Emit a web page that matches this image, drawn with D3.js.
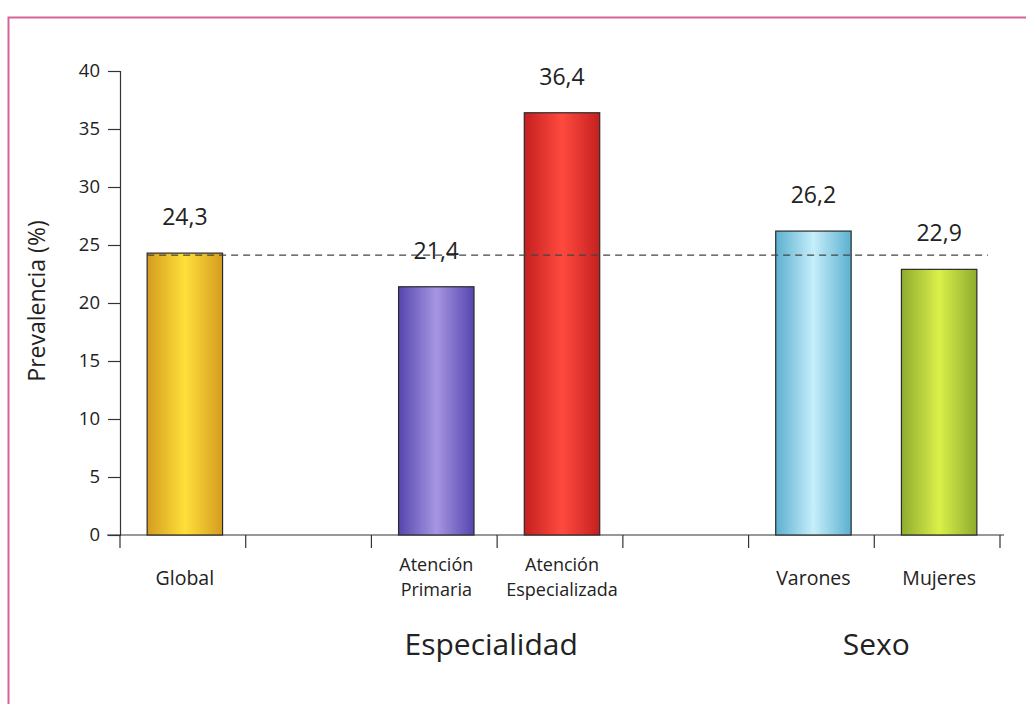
<!DOCTYPE html>
<html>
<head>
<meta charset="utf-8">
<script src="https://cdn.jsdelivr.net/npm/d3@7"></script>
<style>
  html, body { margin: 0; padding: 0; background: #fff; }
  svg text { font-family: 'Open Sans', 'Noto Sans', sans-serif; fill: #222; }
</style>
</head>
<body>
<div class="chart"></div>
<script>
// slots on the x axis, blank ones are gaps between groups
const slots = ['Global', 'gap1', 'Atención Primaria', 'Atención Especializada', 'gap2', 'Varones', 'Mujeres'];
const categories = ['Global', 'Atención Primaria', 'Atención Especializada', 'Varones', 'Mujeres'];
const values = [24.3, 21.4, 36.4, 26.2, 22.9];
const valueLabels = ['24,3', '21,4', '36,4', '26,2', '22,9'];
const categoryLines = [['Global'], ['Atención', 'Primaria'], ['Atención', 'Especializada'], ['Varones'], ['Mujeres']];
const groups = [
  { name: 'Especialidad', from: 'Atención Primaria', to: 'Atención Especializada' },
  { name: 'Sexo', from: 'Varones', to: 'Mujeres' }
];
const yTicks = [0, 5, 10, 15, 20, 25, 30, 35, 40];
const reference = 24.3;

// edge / centre colours for the shaded bars
const barColors = [
  ['#d49c20', '#ffe03a'],
  ['#5646ae', '#a696e2'],
  ['#c42020', '#ff4a3e'],
  ['#5cb0d0', '#c6eefa'],
  ['#8eac2e', '#daf04a']
];

const config = { width: 1026, height: 704 };
const margin = { left: 120, right: 26, top: 71, bottom: 169 };

const svg = d3.select('.chart').append('svg')
  .attr('width', config.width)
  .attr('height', config.height);

// outer frame (top and left edges only visible)
svg.append('path')
  .attr('d', `M8.5,${config.height} L8.5,17.5 L${config.width},17.5`)
  .attr('fill', 'none')
  .attr('stroke', '#d4649a')
  .attr('stroke-width', 2);

const x = d3.scaleBand()
  .domain(slots)
  .range([margin.left + 2, 1002])
  .paddingInner(0.4)
  .paddingOuter(0.2);

const y = d3.scaleLinear()
  .domain([0, 40])
  .range([config.height - margin.bottom, margin.top]);

const defs = svg.append('defs');
barColors.forEach((c, i) => {
  const g = defs.append('linearGradient')
    .attr('id', 'grad' + i)
    .attr('x1', '0%').attr('x2', '100%');
  g.append('stop').attr('offset', '0%').attr('stop-color', c[0]);
  g.append('stop').attr('offset', '50%').attr('stop-color', c[1]);
  g.append('stop').attr('offset', '100%').attr('stop-color', c[0]);
});

// y axis
const yAxis = svg.append('g')
  .attr('transform', `translate(${margin.left},0)`)
  .call(d3.axisLeft(y).tickValues(yTicks).tickSize(12).tickPadding(8));
yAxis.select('.domain').attr('stroke', '#333').attr('stroke-width', 1.2);
yAxis.selectAll('.tick line').attr('stroke', '#333').attr('stroke-width', 1.2);
yAxis.selectAll('.tick text').attr('font-size', 18.5).attr('fill', '#222');

// x axis line and slot boundary ticks
const y0 = y(0);
svg.append('line')
  .attr('x1', margin.left - 13).attr('x2', 1004)
  .attr('y1', y0).attr('y2', y0)
  .attr('stroke', '#333').attr('stroke-width', 1.2);

const boundaries = d3.range(slots.length + 1).map(i => margin.left + i * (880 / slots.length));
svg.selectAll('.xtick')
  .data(boundaries)
  .enter()
  .append('line')
  .attr('class', 'xtick')
  .attr('x1', d => d).attr('x2', d => d)
  .attr('y1', y0).attr('y2', y0 + 13)
  .attr('stroke', '#333').attr('stroke-width', 1.2);

// bars
svg.selectAll('.bar')
  .data(categories)
  .enter()
  .append('rect')
  .attr('class', 'bar')
  .attr('x', d => x(d))
  .attr('y', (d, i) => y(values[i]))
  .attr('width', x.bandwidth())
  .attr('height', (d, i) => y0 - y(values[i]))
  .attr('fill', (d, i) => `url(#grad${i})`)
  .attr('stroke', '#2a2a2a')
  .attr('stroke-width', 1.2);

// reference dashed line
svg.append('line')
  .attr('x1', x('Global')).attr('x2', 988)
  .attr('y1', y(reference) + 2).attr('y2', y(reference) + 2)
  .attr('stroke', '#444')
  .attr('stroke-width', 1.3)
  .attr('stroke-dasharray', '7,5');

// value labels
svg.selectAll('.val')
  .data(categories)
  .enter()
  .append('text')
  .attr('class', 'val')
  .attr('x', d => x(d) + x.bandwidth() / 2)
  .attr('y', (d, i) => y(values[i]) - 28)
  .attr('text-anchor', 'middle')
  .attr('font-size', 23)
  .text((d, i) => valueLabels[i]);

// category labels, one text per line
categories.forEach((c, i) => {
  const lines = categoryLines[i];
  lines.forEach((l, j) => {
    svg.append('text')
      .attr('text-anchor', 'middle')
      .attr('font-size', lines.length === 1 ? 19.5 : 18)
      .attr('x', x(c) + x.bandwidth() / 2)
      .attr('y', lines.length === 1 ? 585 : 571 + j * 24.5)
      .text(l);
  });
});

// group labels
svg.selectAll('.group')
  .data(groups)
  .enter()
  .append('text')
  .attr('class', 'group')
  .attr('text-anchor', 'middle')
  .attr('font-size', 30)
  .attr('x', (d, i) => (x(d.from) + x(d.to) + x.bandwidth()) / 2 - (i === 0 ? 8 : 0))
  .attr('y', 655)
  .text(d => d.name);

// y axis title
svg.append('text')
  .attr('transform', `translate(45,${y(20) - 2}) rotate(-90)`)
  .attr('text-anchor', 'middle')
  .attr('font-size', 23)
  .text('Prevalencia (%)');
</script>
</body>
</html>
